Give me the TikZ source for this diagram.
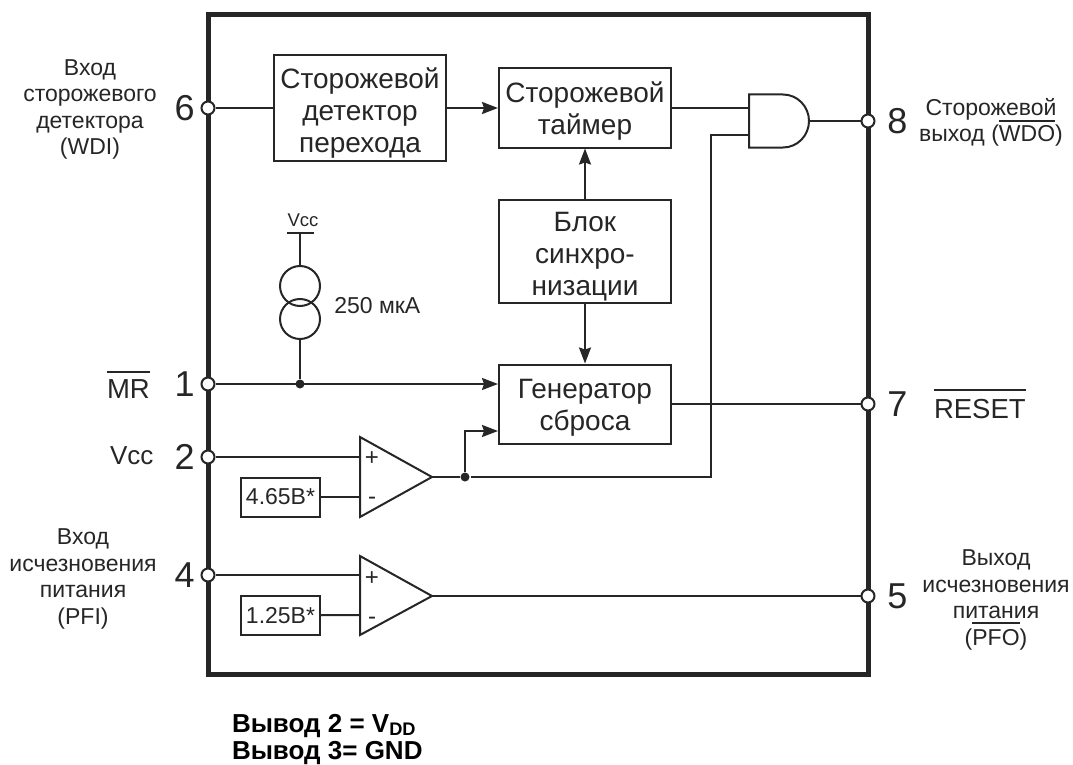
\documentclass[tikz,border=0pt]{standalone}
\usepackage{fontspec}
\setmainfont{Liberation Sans}
\usetikzlibrary{arrows.meta,calc}
\definecolor{ink}{HTML}{262626}
\newcommand{\ovl}[2][5pt]{\leavevmode\smash{\vbox{\hrule height 1.7pt\kern#1\hbox{#2}}}}
\newcommand{\dropby}[1]{\rule{0pt}{\dimexpr20.5pt+2\dimexpr#1\relax\relax}}

\begin{document}
\begin{tikzpicture}[
    x=1pt, y=-1pt,
    line width=2pt, draw=ink, text=ink,
    block/.style={draw=ink,line width=2pt,minimum width=#1,inner sep=0pt,align=center,font=\fontsize{28}{32}\selectfont},
    ref/.style={draw=ink,line width=2pt,minimum width=79pt,minimum height=39pt,inner sep=0pt,font=\fontsize{23}{27}\selectfont},
    pin/.style={circle,draw=ink,fill=white,line width=2pt,minimum size=13pt,inner sep=0pt},
    num/.style={font=\fontsize{36}{40}\selectfont},
    lbl/.style={font=\fontsize{23}{26.5}\selectfont,align=center},
    big/.style={anchor=base west,inner sep=0pt,font=\fontsize{27.5}{32}\selectfont},
    note/.style={anchor=base west,inner sep=0pt,text=black,font=\bfseries\fontsize{26}{30}\selectfont},
    src/.style={circle,draw=ink,line width=2pt,minimum size=40pt,inner sep=0pt},
    dot/.style={circle,fill=ink,minimum size=9pt,inner sep=0pt},
    arr/.style={-{Stealth[length=16pt,width=12pt,inset=2pt]}},
  ]
  \useasboundingbox (0,0) rectangle (1073,765);

  % package outline
  \draw[line width=5pt] (208,15) rectangle (868,674);

  % pins
  \foreach \n/\x/\y in {6/208/108,1/208/384,2/208/457,4/208/575,8/868/121,7/868/404,5/868/596}
    \node[pin] (pin\n) at (\x,\y) {};

  % pin numbers
  \foreach \n in {6,1,2,4}
    \node[num,anchor=east] (num\n) at ($(pin\n)+(-9,0)$) {\n};
  \foreach \n in {8,7,5}
    \node[num,anchor=west] (num\n) at ($(pin\n)+(15,0)$) {\n};

  % blocks
  \node[block=172pt,minimum height=105pt] (det) at (360,108) {\dropby{5pt}Сторожевой\\детектор\\перехода};
  \node[block=172pt,minimum height=79pt] (tim) at (585,108) {\dropby{3pt}Сторожевой\\таймер};
  \node[block=172pt,minimum height=103pt] (syn) at (585,251.5) {\dropby{5pt}Блок\\синхро-\\низации};
  \node[block=172pt,minimum height=79pt] (rst) at (585,404) {\dropby{3pt}Генератор\\сброса};
  \node[ref] (refa) at (280.5,497) {4.65В*};
  \node[ref] (refb) at (280.5,615.5) {1.25В*};

  % AND gate
  \coordinate (ando) at (809,121);
  \draw (749,94.5) -- (783,94.5) arc[start angle=-90,end angle=90,x radius=26,y radius=26.5] -- (749,147.5) -- cycle;

  % comparators
  \coordinate (cmpa) at (432,477);
  \coordinate (cmpb) at (432,596);
  \draw[line join=miter] (360,437) -- (cmpa) -- (360,517) -- cycle;
  \draw[line join=miter] (360,556) -- (cmpb) -- (360,635) -- cycle;
  \foreach \y/\s in {459/+,501/-,579/+,621/-}
    \node[font=\fontsize{24}{24}\selectfont] (sign\y) at (372,\y) {\s};

  % current source
  \node[src] (srca) at (300,286) {};
  \node[src] (srcb) at (300,319) {};
  \coordinate (vbar) at (300,233);
  \draw (287,233) -- (314,233);
  \draw (vbar) -- (srca);

  % junctions
  \node[dot] (jmr) at (300,384) {};
  \node[dot] (jcmp) at (465,477) {};
  \draw (srcb) -- (jmr);

  % signal paths
  \draw (pin6) -- (det);
  \draw[arr] (det) -- (tim);
  \draw[arr] (syn) -- (tim);
  \draw[arr] (syn) -- (rst);
  \draw[arr] (pin1) -- (pin1 -| rst.west);
  \draw (rst) -- (pin7);
  \draw (tim) -- (749,108);
  \draw (ando) -- (pin8);
  \draw (pin2) -- (360,457);
  \draw (refa) -- (360,497);
  \draw (cmpa) -- (jcmp);
  \draw[arr] (jcmp) |- (rst.west |- 0,431);
  \draw (jcmp) -- (711,477) -- (711,135) -- (749,135);
  \draw (pin4) -- (360,575);
  \draw (refb) -- (360,615);
  \draw (cmpb) -- (pin5);

  % labels
  \node[lbl] (lwdi) at (90,109.5) {Вход\\сторожевого\\детектора\\(WDI)};
  \node[lbl] (lwdo) at (991,122.5) {Сторожевой\\выход (\ovl[4pt]{WDO})};
  \node[inner sep=0pt,font=\fontsize{18.5}{22}\selectfont] (lvcc) at (303,220) {Vcc};
  \node[anchor=west,font=\fontsize{23}{27}\selectfont] (lcur) at (330,306) {250 мкА};
  \node[big] (lmr) at (106,398) {\ovl[6pt]{MR}};
  \node[big] (lrst) at (933,418) {\ovl[8pt]{RESET}};
  \node[big,font=\fontsize{26}{30}\selectfont] (lvin) at (109,464) {Vcc};
  \node[lbl] (lpfi) at (83,579) {Вход\\исчезновения\\питания\\(PFI)};
  \node[lbl] (lpfo) at (996,600) {Выход\\исчезновения\\питания\\(\ovl[5.5pt]{PFO})};
  \node[note] (lnotea) at (231,732) {Вывод 2 = V\textsubscript{DD}};
  \node[note] (lnoteb) at (231,759) {Вывод 3= GND};
\end{tikzpicture}
\end{document}
